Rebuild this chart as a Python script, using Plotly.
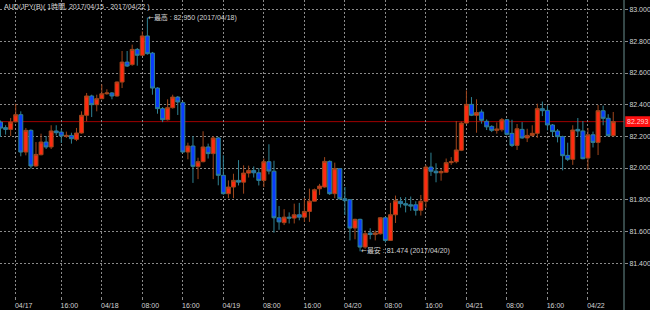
import pandas as pd
import plotly.graph_objects as go

# ---- data (AUD/JPY, 1-hour bars) ----
start_time = "2017-04-17 04:00"
opens = [82.290, 82.255, 82.244, 82.292, 82.337, 82.101, 82.238, 82.013, 82.084, 82.164,
         82.133, 82.234, 82.227, 82.200, 82.206, 82.181, 82.221, 82.333, 82.455, 82.400,
         82.438, 82.469, 82.474, 82.455, 82.543, 82.669, 82.653, 82.749, 82.712, 82.834,
         82.726, 82.505, 82.375, 82.305, 82.381, 82.448, 82.413, 82.101, 82.139, 82.009,
         82.040, 82.133, 82.091, 82.190, 81.954, 81.838, 81.880, 81.922, 81.911, 81.968,
         81.985, 81.970, 81.922, 82.040, 81.980, 81.686, 81.655, 81.690, 81.684, 81.705,
         81.690, 81.726, 81.791, 81.869, 81.880, 82.042, 81.838, 81.996, 81.806, 81.800,
         81.621, 81.676, 81.501, 81.590, 81.580, 81.585, 81.686, 81.543, 81.705, 81.790,
         81.775, 81.768, 81.768, 81.733, 81.790, 82.006, 81.980, 81.970, 81.974, 82.034,
         82.040, 82.112, 82.284, 82.402, 82.333, 82.354, 82.295, 82.263, 82.238, 82.242,
         82.305, 82.219, 82.143, 82.244, 82.190, 82.206, 82.219, 82.375, 82.364, 82.272,
         82.234, 82.198, 82.080, 82.055, 82.244, 82.234, 82.063, 82.210, 82.162, 82.362,
         82.314, 82.204]
highs = [82.300, 82.270, 82.316, 82.406, 82.358, 82.253, 82.244, 82.164, 82.217, 82.202,
         82.270, 82.270, 82.244, 82.230, 82.223, 82.253, 82.358, 82.474, 82.463, 82.463,
         82.528, 82.497, 82.480, 82.547, 82.739, 82.739, 82.779, 82.758, 82.863, 82.950,
         82.733, 82.510, 82.385, 82.434, 82.463, 82.455, 82.420, 82.160, 82.202, 82.065,
         82.232, 82.154, 82.202, 82.196, 82.080, 81.922, 81.964, 82.050, 82.017, 82.015,
         82.010, 82.000, 82.060, 82.150, 82.046, 81.760, 81.740, 81.720, 81.775, 81.780,
         81.810, 81.870, 81.870, 81.900, 82.069, 82.048, 82.034, 82.000, 81.880, 81.800,
         81.680, 81.680, 81.606, 81.620, 81.606, 81.690, 81.690, 81.780, 81.826, 81.816,
         81.816, 81.820, 81.790, 81.830, 82.020, 82.097, 82.030, 81.995, 82.060, 82.069,
         82.297, 82.293, 82.490, 82.448, 82.434, 82.370, 82.307, 82.270, 82.288, 82.316,
         82.310, 82.305, 82.278, 82.290, 82.248, 82.270, 82.406, 82.420, 82.394, 82.278,
         82.246, 82.204, 82.160, 82.270, 82.316, 82.297, 82.253, 82.230, 82.398, 82.394,
         82.340, 82.354]
lows = [82.196, 82.211, 82.202, 82.288, 82.074, 82.080, 81.996, 82.008, 82.080, 82.120,
        82.120, 82.206, 82.158, 82.190, 82.154, 82.170, 82.217, 82.295, 82.322, 82.358,
        82.434, 82.463, 82.434, 82.450, 82.505, 82.638, 82.646, 82.646, 82.708, 82.716,
        82.463, 82.343, 82.290, 82.300, 82.375, 82.335, 82.098, 82.055, 81.906, 81.930,
        82.036, 82.060, 81.930, 81.891, 81.832, 81.810, 81.810, 81.890, 81.838, 81.940,
        81.940, 81.890, 81.880, 81.960, 81.592, 81.610, 81.640, 81.650, 81.650, 81.670,
        81.660, 81.660, 81.790, 81.830, 81.876, 81.830, 81.810, 81.800, 81.703, 81.543,
        81.550, 81.474, 81.490, 81.550, 81.543, 81.580, 81.530, 81.540, 81.653, 81.750,
        81.720, 81.730, 81.700, 81.700, 81.750, 81.950, 81.910, 81.920, 81.970, 82.020,
        82.030, 82.107, 82.280, 82.328, 82.223, 82.280, 82.240, 82.227, 82.217, 82.230,
        82.206, 82.133, 82.114, 82.185, 82.164, 82.198, 82.190, 82.328, 82.238, 82.202,
        82.162, 81.985, 82.044, 82.020, 82.198, 82.055, 81.990, 82.130, 82.082, 82.270,
        82.200, 82.200]
closes = [82.252, 82.244, 82.290, 82.337, 82.101, 82.238, 82.013, 82.086, 82.164, 82.133,
          82.234, 82.223, 82.202, 82.206, 82.185, 82.221, 82.333, 82.455, 82.400, 82.438,
          82.469, 82.474, 82.455, 82.543, 82.669, 82.644, 82.749, 82.712, 82.834, 82.722,
          82.505, 82.375, 82.305, 82.381, 82.448, 82.417, 82.101, 82.139, 82.011, 82.040,
          82.133, 82.091, 82.190, 81.954, 81.838, 81.880, 81.922, 81.911, 81.968, 81.985,
          81.970, 81.922, 82.040, 81.981, 81.686, 81.660, 81.690, 81.684, 81.705, 81.690,
          81.726, 81.791, 81.863, 81.886, 82.042, 81.838, 81.996, 81.806, 81.794, 81.621,
          81.676, 81.501, 81.585, 81.580, 81.590, 81.686, 81.543, 81.705, 81.794, 81.775,
          81.766, 81.760, 81.733, 81.790, 82.006, 81.980, 81.970, 81.978, 82.034, 82.040,
          82.114, 82.284, 82.402, 82.333, 82.350, 82.301, 82.260, 82.238, 82.246, 82.305,
          82.213, 82.143, 82.248, 82.190, 82.206, 82.219, 82.375, 82.362, 82.272, 82.230,
          82.198, 82.078, 82.055, 82.240, 82.234, 82.059, 82.210, 82.162, 82.362, 82.314,
          82.204, 82.293]

tick_times = ["2017-04-17 07:00", "2017-04-17 16:00", "2017-04-18 00:00", "2017-04-18 08:00",
              "2017-04-18 16:00", "2017-04-19 00:00", "2017-04-19 08:00", "2017-04-19 16:00",
              "2017-04-20 00:00", "2017-04-20 08:00", "2017-04-20 16:00", "2017-04-21 00:00",
              "2017-04-21 08:00", "2017-04-21 16:00", "2017-04-22 00:00"]
tick_text = ["04/17", "16:00", "04/18", "08:00", "16:00", "04/19", "08:00", "16:00",
             "04/20", "08:00", "16:00", "04/21", "08:00", "16:00", "04/22"]
y_ticks = [81.4, 81.6, 81.8, 82.0, 82.2, 82.4, 82.6, 82.8, 83.0]

title_text = "AUD/JPY(B)( 1時間, 2017/04/15 - 2017/04/22 )"
high_time, high_val, high_date = "2017-04-18 09:00", 82.950, "2017/04/18"
low_time, low_val, low_date = "2017-04-20 03:00", 81.474, "2017/04/20"
last_price = closes[-1]

times = pd.date_range(start_time, periods=len(opens), freq="h")

FONT = "Liberation Sans, Noto Sans CJK JP, sans-serif"
TXT = "#d4d4d4"
GRID = "#8a8a8a"
AXIS = "#6a8f8f"
ARROW = "<span style='font-family:DejaVu Sans'>←</span>"

fig = go.Figure()
fig.add_trace(go.Candlestick(
    x=times, open=opens, high=highs, low=lows, close=closes,
    increasing=dict(line=dict(color="#a0461c", width=1), fillcolor="#ff2a10"),
    decreasing=dict(line=dict(color="#2f8294", width=1), fillcolor="#0a3cff"),
    whiskerwidth=0, hoverinfo="skip", showlegend=False,
))

# current price line
fig.add_hline(y=last_price, line=dict(color="#a00000", width=1), layer="below")

W = 624.0
fig.update_layout(
    width=650, height=310,
    margin=dict(l=0, r=26, t=0, b=14),
    paper_bgcolor="black", plot_bgcolor="black",
    boxgap=0.22, boxgroupgap=0,
    xaxis=dict(
        type="date", rangeslider=dict(visible=False),
        range=["2017-04-17 03:53:42", "2017-04-22 07:07:12"],
        tickmode="array", tickvals=tick_times, ticktext=tick_text,
        showgrid=True, gridcolor=GRID, griddash="2px,2px", gridwidth=1,
        ticks="outside", ticklen=3, tickcolor=GRID,
        tickfont=dict(family=FONT, size=7, color=TXT),
        ticklabelshift=8, ticklabelstandoff=0,
        zeroline=False, showline=False, fixedrange=True,
    ),
    yaxis=dict(
        side="right", range=[81.192, 83.061],
        tickmode="array", tickvals=y_ticks,
        ticktext=[f"{v:.3f}" for v in y_ticks],
        showgrid=True, gridcolor=GRID, griddash="2px,2px", gridwidth=1,
        ticks="outside", ticklen=3, tickcolor=GRID,
        tickfont=dict(family=FONT, size=7, color=TXT),
        ticklabelstandoff=0,
        zeroline=False, showline=False, fixedrange=True,
    ),
    shapes=[
        dict(type="line", xref="paper", yref="paper", x0=0, x1=650 / W, y0=0, y1=0,
             line=dict(color=AXIS, width=1), layer="above"),
        dict(type="line", xref="paper", yref="paper", x0=1, x1=1, y0=-14 / 296, y1=1,
             line=dict(color=AXIS, width=1), layer="above"),
        dict(type="rect", xref="paper", yref="y", x0=1.002, x1=650 / W,
             y0=last_price - 0.034, y1=last_price + 0.034,
             fillcolor="#ff1010", line=dict(width=0), layer="above"),
    ],
    annotations=[
        dict(text=title_text, xref="paper", yref="paper", x=0.003, y=1, yshift=-1,
             xanchor="left", yanchor="top", showarrow=False,
             font=dict(family=FONT, size=7, color=TXT)),
        dict(text=f"{ARROW}最高 : {high_val:.3f} ({high_date})", x=high_time, y=high_val,
             xref="x", yref="y", xanchor="left", yanchor="middle", showarrow=False,
             xshift=-1, font=dict(family=FONT, size=7, color=TXT)),
        dict(text=f"{ARROW}最安 : {low_val:.3f} ({low_date})", x=low_time, y=low_val,
             xref="x", yref="y", xanchor="left", yanchor="middle", showarrow=False,
             xshift=-1, font=dict(family=FONT, size=7, color=TXT)),
        dict(text=f"{last_price:.3f}", x=1, y=last_price, xref="paper", yref="y",
             xanchor="left", yanchor="middle", showarrow=False, xshift=1,
             font=dict(family=FONT, size=7, color="#ffd0d0")),
    ],
)

fig.write_html("out.html")
